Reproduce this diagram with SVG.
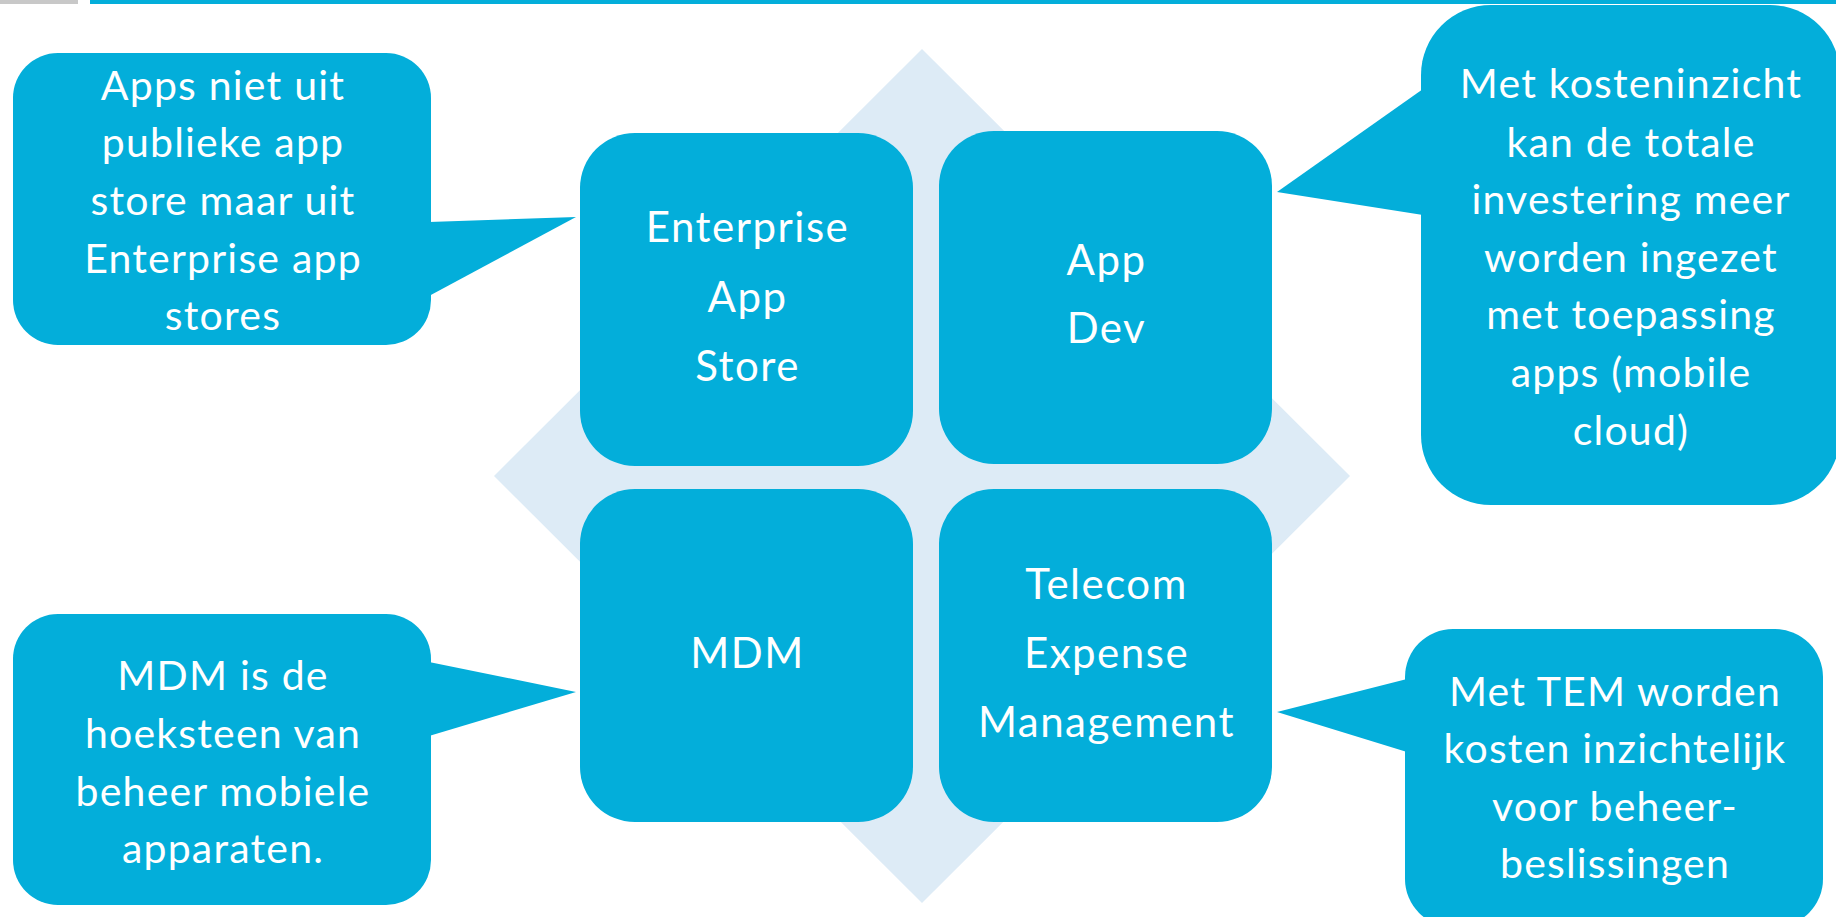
<svg xmlns="http://www.w3.org/2000/svg" width="1836" height="917" viewBox="0 0 1836 917">
<style>
.box{fill:#03AEDA}
.call{fill:#03AEDA}
.t{font-family:Lato,"Open Sans","Liberation Sans",sans-serif;fill:#FFFFFF;text-anchor:middle}
.ct{font-size:41px;letter-spacing:1.2px}
.nt{font-size:42px;letter-spacing:1.5px}
</style>
<rect width="1836" height="917" fill="#FFFFFF"/>
<rect x="0" y="0" width="78" height="4" fill="#C8C8C8"/>
<rect x="90" y="0" width="1746" height="4" fill="#03AEDA"/>
<polygon id="diamond" points="922,49 1350,476 922,903 494,476" fill="#DDEBF6"/>
<g id="connectors">
<polygon class="call" points="429,222 576,217 429,296"/>
<polygon class="call" points="1423,89 1277,192 1423,215"/>
<polygon class="call" points="429,662 576,692 429,736"/>
<polygon class="call" points="1407,679 1277,712 1407,752"/>
</g>
<g id="node-enterprise">
<rect class="box" x="580" y="133" width="333" height="333" rx="55" ry="55"/>
<text class="t nt" x="747.5" y="242">Enterprise</text>
<text class="t nt" x="747.5" y="312">App</text>
<text class="t nt" x="747.5" y="381">Store</text>
</g>
<g id="node-appdev">
<rect class="box" x="939" y="131" width="333" height="333" rx="55" ry="55"/>
<text class="t nt" x="1106.5" y="275">App</text>
<text class="t nt" x="1106.5" y="343">Dev</text>
</g>
<g id="node-mdm">
<rect class="box" x="580" y="489" width="333" height="333" rx="55" ry="55"/>
<text class="t nt" x="747.5" y="668">MDM</text>
</g>
<g id="node-tem">
<rect class="box" x="939" y="489" width="333" height="333" rx="55" ry="55"/>
<text class="t nt" x="1106.5" y="599">Telecom</text>
<text class="t nt" x="1106.5" y="668">Expense</text>
<text class="t nt" x="1106.5" y="737">Management</text>
</g>
<g id="callout-topleft">
<rect class="call" x="13" y="53" width="418" height="292" rx="45" ry="45"/>
<text class="t ct" x="223" y="100">Apps niet uit</text>
<text class="t ct" x="223" y="157">publieke app</text>
<text class="t ct" x="223" y="215">store maar uit</text>
<text class="t ct" x="223" y="273">Enterprise app</text>
<text class="t ct" x="223" y="330">stores</text>
</g>
<g id="callout-topright">
<rect class="call" x="1421" y="5" width="419" height="500" rx="70" ry="70"/>
<text class="t ct" x="1631" y="98">Met kosteninzicht</text>
<text class="t ct" x="1631" y="157">kan de totale</text>
<text class="t ct" x="1631" y="214">investering meer</text>
<text class="t ct" x="1631" y="272">worden ingezet</text>
<text class="t ct" x="1631" y="329">met toepassing</text>
<text class="t ct" x="1631" y="387">apps (mobile</text>
<text class="t ct" x="1631" y="445">cloud)</text>
</g>
<g id="callout-bottomleft">
<rect class="call" x="13" y="614" width="418" height="291" rx="45" ry="45"/>
<text class="t ct" x="223" y="690">MDM is de</text>
<text class="t ct" x="223" y="748">hoeksteen van</text>
<text class="t ct" x="223" y="806">beheer mobiele</text>
<text class="t ct" x="223" y="863">apparaten.</text>
</g>
<g id="callout-bottomright">
<rect class="call" x="1405" y="629" width="418" height="298" rx="48" ry="48"/>
<text class="t ct" x="1615" y="706">Met TEM worden</text>
<text class="t ct" x="1615" y="763">kosten inzichtelijk</text>
<text class="t ct" x="1615" y="821">voor beheer-</text>
<text class="t ct" x="1615" y="878">beslissingen</text>
</g>
</svg>
